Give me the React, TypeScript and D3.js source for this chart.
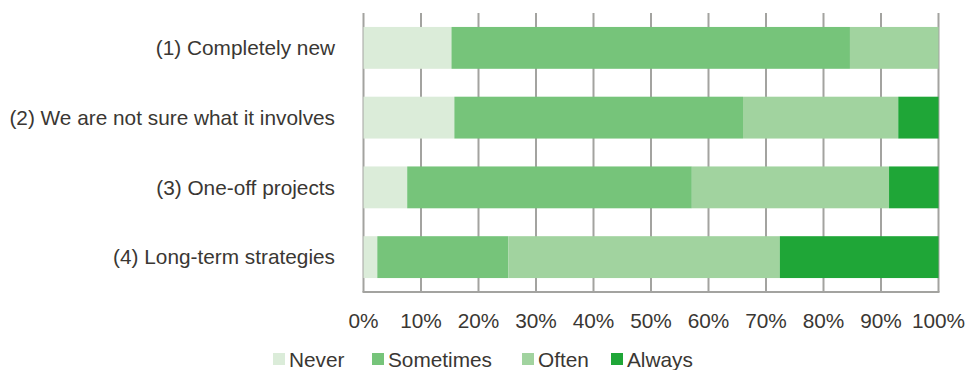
import React from "react";
import * as d3 from "d3";

const categories = [
  "(1) Completely new",
  "(2) We are not sure what it involves",
  "(3) One-off projects",
  "(4) Long-term strategies",
];
const seriesNames = ["Never", "Sometimes", "Often", "Always"];
const never = [15.3, 15.8, 7.6, 2.4];
const sometimes = [69.3, 50.2, 49.5, 22.8];
const often = [15.4, 27.0, 34.3, 47.2];
const always = [0, 7.0, 8.6, 27.6];
const tickValues = [0, 10, 20, 30, 40, 50, 60, 70, 80, 90, 100];
const colors = ["#dbecd9", "#76c47a", "#a1d39f", "#1fa637"];

export default function App() {
  const W = 966, H = 370;
  const left = 363.5, right = 938.5, top = 13, bottom = 292;
  const x = d3.scaleLinear().domain([0, 100]).range([left, right]);
  const y = d3.scaleBand<string>().domain(categories).range([top, bottom]).paddingInner(0.4).paddingOuter(0.2);
  const table = categories.map((c, i) => ({ cat: c, Never: never[i], Sometimes: sometimes[i], Often: often[i], Always: always[i] }));
  const stack = d3.stack<any>().keys(seriesNames)(table);
  const textColor = "#3a3733";
  const grid = "#a3a3a0";
  const font = "'Liberation Sans', Arial, sans-serif";
  const fs = 20.8;
  const legendX = [273, 372, 522, 611];
  return (
    <svg width={W} height={H} style={{ position: "absolute", left: 0, top: 0 }} fontFamily={font}>
      {tickValues.map((t) => (
        <line key={t} x1={x(t)} x2={x(t)} y1={top} y2={bottom} stroke={grid} strokeWidth={2} />
      ))}
      {stack.map((s, si) =>
        s.map((d, i) => (
          <rect key={si + "-" + i} x={x(d[0])} width={Math.max(0, x(d[1]) - x(d[0]))} y={y(categories[i])} height={y.bandwidth()} fill={colors[si]} />
        ))
      )}
      <line x1={left - 1} x2={right + 1} y1={bottom} y2={bottom} stroke={grid} strokeWidth={2} />
      {categories.map((c) => (
        <text key={c} x={335} y={(y(c) as number) + y.bandwidth() / 2} dy="0.35em" textAnchor="end" fontSize={fs} fill={textColor}>{c}</text>
      ))}
      {tickValues.map((t) => (
        <text key={t} x={x(t)} y={321} dy="0.35em" textAnchor="middle" fontSize={fs} fill={textColor}>{t + "%"}</text>
      ))}
      {seriesNames.map((n, i) => (
        <g key={n}>
          <rect x={legendX[i]} y={353} width={12} height={12} fill={colors[i]} />
          <text x={legendX[i] + 16} y={360} dy="0.35em" fontSize={fs} fill={textColor}>{n}</text>
        </g>
      ))}
    </svg>
  );
}
